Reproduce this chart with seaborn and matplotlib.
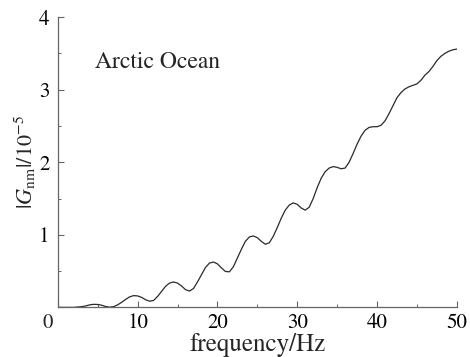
import numpy as np
import pandas as pd
import matplotlib
matplotlib.use("Agg")
import matplotlib.pyplot as plt
import seaborn as sns
from matplotlib.ticker import MultipleLocator

# Frequency axis (Hz) and transfer-function magnitude |G_nm| in units of 1e-5
freq_hz = [
    0.0, 0.5, 1.0, 1.5, 2.0, 2.5, 3.0, 3.5, 4.0, 4.5,
    5.0, 5.5, 6.0, 6.5, 7.0, 7.5, 8.0, 8.5, 9.0, 9.5,
    10.0, 10.5, 11.0, 11.5, 12.0, 12.5, 13.0, 13.5, 14.0, 14.5,
    15.0, 15.5, 16.0, 16.5, 17.0, 17.5, 18.0, 18.5, 19.0, 19.5,
    20.0, 20.5, 21.0, 21.5, 22.0, 22.5, 23.0, 23.5, 24.0, 24.5,
    25.0, 25.5, 26.0, 26.5, 27.0, 27.5, 28.0, 28.5, 29.0, 29.5,
    30.0, 30.5, 31.0, 31.5, 32.0, 32.5, 33.0, 33.5, 34.0, 34.5,
    35.0, 35.5, 36.0, 36.5, 37.0, 37.5, 38.0, 38.5, 39.0, 39.5,
    40.0, 40.5, 41.0, 41.5, 42.0, 42.5, 43.0, 43.5, 44.0, 44.5,
    45.0, 45.5, 46.0, 46.5, 47.0, 47.5, 48.0, 48.5, 49.0, 49.5,
    50.0,
]
g_magnitude = [
    0.000, 0.000, 0.000, 0.000, 0.000, 0.005, 0.010, 0.020, 0.035, 0.042,
    0.040, 0.030, 0.012, 0.003, 0.010, 0.035, 0.070, 0.110, 0.145, 0.162,
    0.158, 0.138, 0.105, 0.085, 0.095, 0.150, 0.220, 0.290, 0.335, 0.350,
    0.335, 0.295, 0.245, 0.225, 0.260, 0.350, 0.450, 0.550, 0.610, 0.625,
    0.600, 0.545, 0.495, 0.490, 0.560, 0.680, 0.800, 0.910, 0.970, 0.985,
    0.960, 0.910, 0.870, 0.890, 0.980, 1.100, 1.230, 1.340, 1.410, 1.440,
    1.420, 1.370, 1.340, 1.380, 1.500, 1.650, 1.780, 1.870, 1.920, 1.940,
    1.930, 1.910, 1.920, 2.000, 2.120, 2.250, 2.360, 2.440, 2.480, 2.490,
    2.490, 2.510, 2.570, 2.670, 2.780, 2.890, 2.960, 3.010, 3.040, 3.060,
    3.080, 3.130, 3.200, 3.250, 3.320, 3.400, 3.460, 3.500, 3.530, 3.550,
    3.560,
]
x_ticks = [0, 10, 20, 30, 40, 50]
y_ticks = [0, 1, 2, 3, 4]

sns.set_theme(style="ticks")
plt.rcParams["font.family"] = ["STIXGeneral", "DejaVu Serif"]
plt.rcParams["mathtext.fontset"] = "stix"

df = pd.DataFrame({"freq": freq_hz, "g": g_magnitude})

fig = plt.figure(figsize=(4.7, 3.57), dpi=100)
ax = fig.add_axes([0.123, 0.139, 0.849, 0.813])

sns.lineplot(data=df, x="freq", y="g", ax=ax, color="#2a2a2a", linewidth=0.9)

ax.set_xlim(0, 50)
ax.set_ylim(0, 4)
ax.set_xticks(x_ticks)
ax.set_xticklabels([""] + [str(v) for v in x_ticks[1:]])
ax.set_yticks(y_ticks)
ax.set_yticklabels([""] + [str(v) for v in y_ticks[1:]])
ax.xaxis.set_minor_locator(MultipleLocator(5))
ax.yaxis.set_minor_locator(MultipleLocator(0.5))

for side in ("top", "right"):
    ax.spines[side].set_visible(False)
for side in ("left", "bottom"):
    ax.spines[side].set_color("#666666")
    ax.spines[side].set_linewidth(0.9)

ax.tick_params(which="major", direction="in", length=4, width=0.8,
               color="#666666", labelsize=15, labelcolor="black", pad=6)
ax.tick_params(axis="x", which="major", pad=4)
ax.tick_params(which="minor", direction="in", length=2.5, width=0.7,
               color="#666666")

# shared origin label sitting below-left of the corner
ax.annotate("0", xy=(0, 0), xycoords="data", xytext=(-7.5, -4.5),
            textcoords="offset points", ha="center", va="top", fontsize=15)

ax.set_xlabel("frequency/Hz", fontsize=18, labelpad=0)
ax.set_ylabel(r"$|G_{\mathrm{nm}}|/10^{-5}$", fontsize=16, labelpad=1)

ax.text(4.6, 3.38, "Arctic Ocean", fontsize=17, ha="left", va="center")

fig.savefig("out.png", dpi=100, facecolor="white")
